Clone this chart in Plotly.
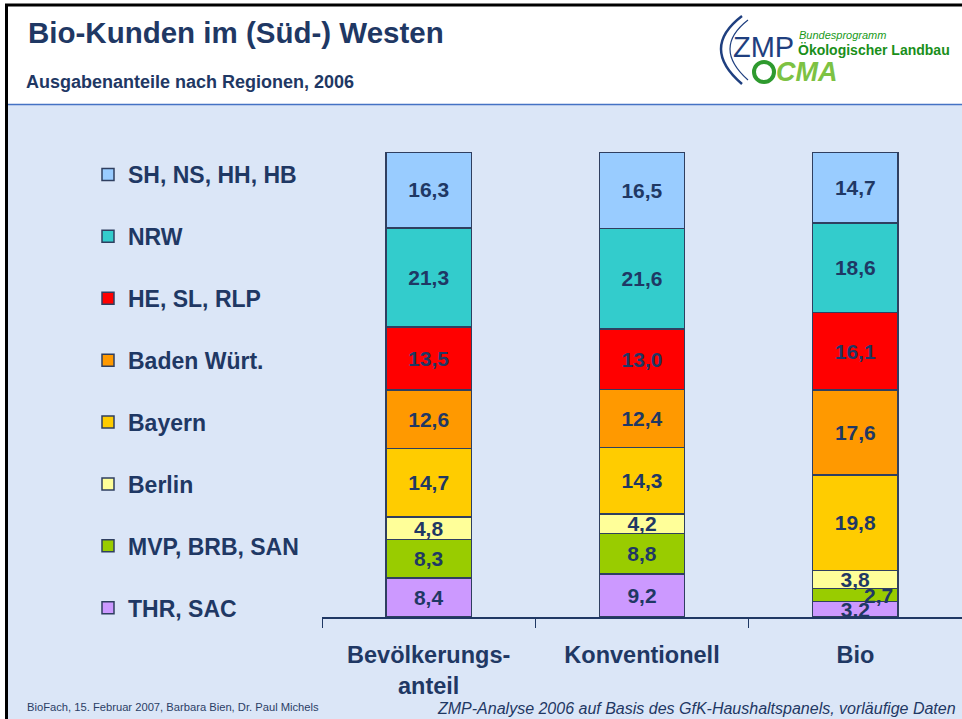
import plotly.graph_objects as go

# ---------------- data ----------------
categories = ["Bevölkerungs-<br>anteil", "Konventionell", "Bio"]
# stacking order: bottom -> top
regions = ["THR, SAC", "MVP, BRB, SAN", "Berlin", "Bayern", "Baden Würt.",
           "HE, SL, RLP", "NRW", "SH, NS, HH, HB"]
values = {
    "THR, SAC":       [8.4, 9.2, 3.2],
    "MVP, BRB, SAN":  [8.3, 8.8, 2.7],
    "Berlin":         [4.8, 4.2, 3.8],
    "Bayern":         [14.7, 14.3, 19.8],
    "Baden Würt.":    [12.6, 12.4, 17.6],
    "HE, SL, RLP":    [13.5, 13.0, 16.1],
    "NRW":            [21.3, 21.6, 18.6],
    "SH, NS, HH, HB": [16.3, 16.5, 14.7],
}
colors = {
    "THR, SAC": "#CC99FF",
    "MVP, BRB, SAN": "#99CC00",
    "Berlin": "#FFFF99",
    "Bayern": "#FFCC00",
    "Baden Würt.": "#FF9900",
    "HE, SL, RLP": "#FF0000",
    "NRW": "#33CCCC",
    "SH, NS, HH, HB": "#99CCFF",
}

NAVY = "#1F3864"
FONT = "Arial, Liberation Sans, sans-serif"
W, H = 962, 719
ML, MR, MT, MB = 322, 0, 152, 102


def px(x):
    return (x - ML) / (W - ML - MR)


def py(y):
    return (H - MB - y) / (H - MT - MB)


def fmt(v):
    return f"{v:.1f}".replace(".", ",")


fig = go.Figure()
n = len(regions)
for i, r in enumerate(regions):
    txt = [fmt(v) for v in values[r]]
    if r == "MVP, BRB, SAN":
        txt[2] = ""  # drawn as shifted annotation below
    fig.add_trace(go.Bar(
        x=categories, y=values[r], name=r, legendgroup=r, legendrank=n - i,
        marker=dict(color=colors[r], line=dict(color="#2F3F60", width=1.5)),
        text=txt, texttemplate="%{text}", textposition="inside",
        insidetextanchor="middle", textangle=0, constraintext="none",
        textfont=dict(family=FONT, size=21, color=NAVY, weight="bold"),
        hoverinfo="skip",
    ))

# shifted label for the small Bio segment (like in the original)
bio_total = sum(values[r][2] for r in regions)
mvp_center = (values["THR, SAC"][2] + values["MVP, BRB, SAN"][2] / 2) / bio_total * 100
annotations = [dict(x=categories[2], y=mvp_center, xref="x", yref="y",
                    text=fmt(values["MVP, BRB, SAN"][2]), showarrow=False,
                    xshift=23, font=dict(family=FONT, size=21, color=NAVY, weight="bold"))]

# header / footer texts
annotations += [
    dict(x=px(26), y=py(32), xref="paper", yref="paper", xanchor="left", yanchor="middle",
         text="<b>Bio-Kunden im (Süd-) Westen</b>", showarrow=False,
         font=dict(family=FONT, size=29.5, color=NAVY)),
    dict(x=px(24), y=py(82), xref="paper", yref="paper", xanchor="left", yanchor="middle",
         text="<b>Ausgabenanteile nach Regionen, 2006</b>", showarrow=False,
         font=dict(family=FONT, size=18, color=NAVY)),
    dict(x=px(25), y=py(707), xref="paper", yref="paper", xanchor="left", yanchor="middle",
         text="BioFach, 15. Februar 2007, Barbara Bien, Dr. Paul Michels", showarrow=False,
         font=dict(family=FONT, size=11.2, color="#2B3E66")),
    dict(x=px(958), y=py(708), xref="paper", yref="paper", xanchor="right", yanchor="middle",
         text="<i>ZMP-Analyse 2006 auf Basis des GfK-Haushaltspanels, vorläufige Daten</i>",
         showarrow=False, font=dict(family=FONT, size=16, color=NAVY)),
    # logo
    dict(x=px(731), y=py(47), xref="paper", yref="paper", xanchor="left", yanchor="middle",
         text="ZMP", showarrow=False, font=dict(family=FONT, size=29, color="#1F3F7F")),
    dict(x=px(797), y=py(35), xref="paper", yref="paper", xanchor="left", yanchor="middle",
         text="<i>Bundesprogramm</i>", showarrow=False,
         font=dict(family=FONT, size=11, color="#1A9A1A")),
    dict(x=px(796), y=py(50), xref="paper", yref="paper", xanchor="left", yanchor="middle",
         text="<b>Ökologischer Landbau</b>", showarrow=False,
         font=dict(family=FONT, size=14, color="#1A8F1A")),
    dict(x=px(774), y=py(72), xref="paper", yref="paper", xanchor="left", yanchor="middle",
         text="<b><i>CMA</i></b>", showarrow=False,
         font=dict(family=FONT, size=27, color="#7DC243")),
]

shapes = [
    # light blue body
    dict(type="rect", xref="paper", yref="paper", x0=px(8), x1=px(970), y0=py(725), y1=py(104),
         fillcolor="#DBE6F7", line=dict(width=0), layer="below"),
    dict(type="line", xref="paper", yref="paper", x0=px(8), x1=px(962), y0=py(104.5), y1=py(104.5),
         line=dict(color="#4472C4", width=1.5), layer="below"),
    # black frame lines
    dict(type="line", xref="paper", yref="paper", x0=px(5), x1=px(962), y0=py(5), y1=py(5),
         line=dict(color="black", width=3), layer="below"),
    dict(type="line", xref="paper", yref="paper", x0=px(6.5), x1=px(6.5), y0=py(5), y1=py(719),
         line=dict(color="black", width=3), layer="below"),
    # logo arcs and CMA circle
    dict(type="path", xref="paper", yref="paper",
         path=f"M {px(742)},{py(16)} Q {px(700)},{py(48)} {px(742)},{py(84)}",
         line=dict(color="#1F3F7F", width=2.5), layer="below"),
    dict(type="path", xref="paper", yref="paper",
         path=f"M {px(748)},{py(20)} Q {px(712)},{py(48)} {px(748)},{py(80)}",
         line=dict(color="#1F3F7F", width=1.2), layer="below"),
    dict(type="circle", xref="paper", yref="paper", x0=px(754), x1=px(774), y0=py(82), y1=py(62),
         line=dict(color="#2E9A2E", width=4), layer="above"),
]

fig.update_layout(
    width=W, height=H,
    margin=dict(l=ML, r=MR, t=MT, b=MB),
    paper_bgcolor="white", plot_bgcolor="rgba(0,0,0,0)",
    barmode="stack", barnorm="percent", bargap=0.6,
    uniformtext=dict(minsize=21, mode="show"),
    showlegend=True,
    legend=dict(x=px(88), y=py(153), xanchor="left", yanchor="top",
                traceorder="grouped", tracegroupgap=29, maxheight=650,
                bgcolor="rgba(0,0,0,0)",
                font=dict(family=FONT, size=23, color=NAVY, weight="bold")),
    xaxis=dict(showline=True, linecolor=NAVY, linewidth=1.5,
               ticks="outside", tickson="boundaries", ticklen=9, tickcolor=NAVY, tickwidth=1.2,
               ticklabelstandoff=16,
               tickfont=dict(family=FONT, size=23.5, color=NAVY, weight="bold"),
               showgrid=False, zeroline=False),
    yaxis=dict(visible=False, range=[0, 100]),
    annotations=annotations,
    shapes=shapes,
)

fig.write_html("out.html", config={"displayModeBar": False},
               post_script="document.body.style.margin='0';")
